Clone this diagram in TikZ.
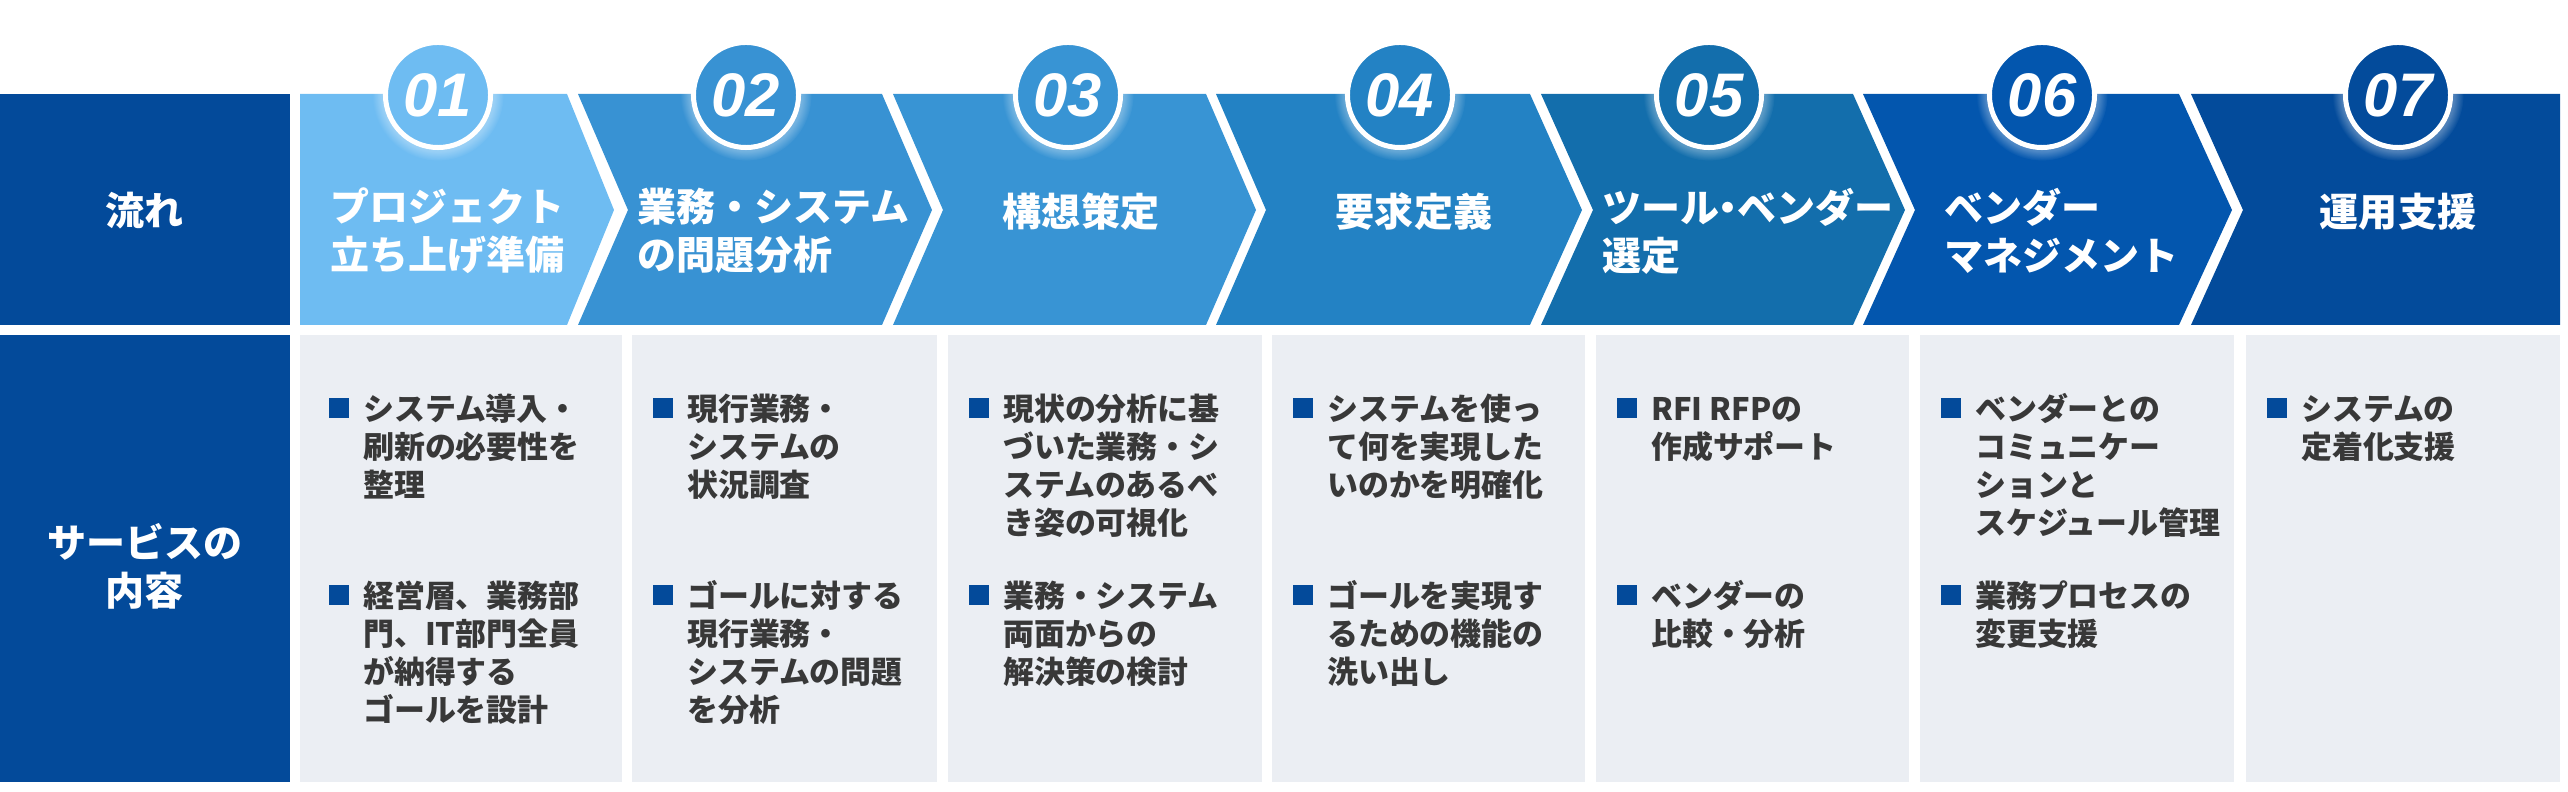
\documentclass[tikz,border=0pt]{standalone}
\usepackage{fontspec}
\setmainfont{Noto Sans CJK JP}
\newfontfamily\numfont{Liberation Sans}
\usepackage{xcolor}
\usetikzlibrary{positioning,shadows}
\definecolor{navy}{HTML}{034A9A}
\definecolor{stepA}{HTML}{6EBCF2}
\definecolor{stepB}{HTML}{3892D3}
\definecolor{stepC}{HTML}{3894D4}
\definecolor{stepD}{HTML}{2382C4}
\definecolor{stepE}{HTML}{136EAC}
\definecolor{stepF}{HTML}{0356AE}
\definecolor{stepG}{HTML}{034B9B}
\definecolor{cellgray}{HTML}{EBEEF3}
\definecolor{inktext}{HTML}{383838}

\begin{document}
\begin{tikzpicture}[x=0.01cm,y=-0.01cm,
  headtext/.style={text=white,font=\fontsize{11.1}{13.7}\selectfont\bfseries,align=left,inner sep=0pt},
  numcirc/.style={circle,draw=white,line width=0.05cm,minimum size=1.05cm,inner sep=0pt,text=white,
    font=\numfont\bfseries\itshape\fontsize{17.5}{17.5}\selectfont,circular glow={fill=white,opacity=0.3}},
  bulletsq/.style={fill=navy,minimum size=0.2cm,inner sep=0pt},
  itemtext/.style={text=inktext,font=\fontsize{8.8}{10.8}\selectfont\bfseries,align=left,inner sep=0pt}]
\useasboundingbox (0,0) rectangle (2568,792);

\fill[navy] (0,94) rectangle (290,325);
\fill[navy] (0,335) rectangle (290,782);
\node[headtext] (flow) at (145,211) {流れ};
\node[headtext,align=center] (svc) at (145,566) {サービスの\\内容};

\foreach \l/\n/\r/\t/\col in {300/300/567/614/stepA,578/628/882/932/stepB,893/943/1206/1256/stepC,
  1216/1266/1530/1582/stepD,1541/1593/1853/1905/stepE,1863/1915/2179/2232/stepF,2191/2243/2560/2560/stepG}{
  \fill[\col] (\l,94) -- (\r,94) -- (\t,210) -- (\r,325) -- (\l,325) -- (\n,210) -- cycle;
}

\foreach \a/\b in {300/622,632/937,948/1262,1272/1585,1596/1909,1920/2234,2246/2560}{
  \fill[cellgray] (\a,335) rectangle (\b,782);
}

\foreach \cx/\num/\col in {438/01/stepA,746/02/stepB,1068/03/stepC,1400/04/stepD,1709/05/stepE,2042/06/stepF,2398/07/stepG}{
  \node[numcirc,fill=\col] (c\num) at (\cx,95) {\num};
}

\node[headtext,anchor=west] (h1) at (330,231) {プロジェクト\\立ち上げ準備};
\node[headtext,anchor=west] (h2) at (637,231) {業務・システム\\の問題分析};
\node[headtext] (h3) at (1081,212) {構想策定};
\node[headtext] (h4) at (1414,212) {要求定義};
\node[headtext,anchor=west] (h5) at (1602,231) {ツール\kern-0.28em・\kern-0.28emベンダー\\選定};
\node[headtext,anchor=west] (h6) at (1944,231) {ベンダー\\マネジメント};
\node[headtext] (h7) at (2398,212) {運用支援};

\foreach \bx/\by/\id/\txt in {
  328/408/11/{システム導入・\\刷新の必要性を\\整理},
  328/595/12/{経営層、業務部\\門、IT部門全員\\が納得する\\ゴールを設計},
  652/408/21/{現行業務・\\システムの\\状況調査},
  652/595/22/{ゴールに対する\\現行業務・\\システムの問題\\を分析},
  968/408/31/{現状の分析に基\\づいた業務・シ\\ステムのあるべ\\き姿の可視化},
  968/595/32/{業務・システム\\両面からの\\解決策の検討},
  1292/408/41/{システムを使っ\\て何を実現した\\いのかを明確化},
  1292/595/42/{ゴールを実現す\\るための機能の\\洗い出し},
  1616/408/51/{RFI RFPの\\作成サポート},
  1616/595/52/{ベンダーの\\比較・分析},
  1940/408/61/{ベンダーとの\\コミュニケー\\ションと\\スケジュール管理},
  1940/595/62/{業務プロセスの\\変更支援},
  2266/408/71/{システムの\\定着化支援}}{
  \node[bulletsq,anchor=west] (b\id) at (\bx,\by) {};
  \node[itemtext,right=0.13cm of b\id.east,anchor=north west,yshift=0.19cm] (t\id) {\rule{0pt}{1em}\txt};
}
\end{tikzpicture}
\end{document}
